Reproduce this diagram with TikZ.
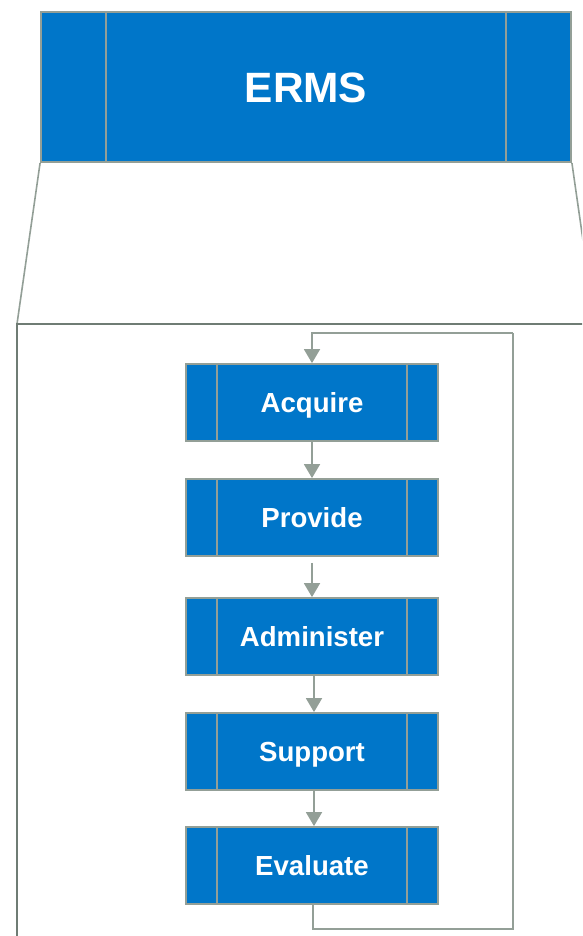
\documentclass[tikz,border=0pt]{standalone}
\usepackage{fontspec}
\setmainfont{Liberation Sans}
\usetikzlibrary{arrows.meta}
\definecolor{boxblue}{HTML}{0076C9}
\definecolor{edgegrey}{HTML}{939F97}
\definecolor{framegrey}{HTML}{6F7C74}
\tikzset{
  topbox/.style={draw=edgegrey, line width=1.8pt, fill=boxblue, minimum width=530pt, minimum height=150pt, inner sep=0pt, text=white, text height=30.4pt, text depth=0pt, font=\bfseries\fontsize{42.4}{48}\selectfont},
  procbox/.style={draw=edgegrey, line width=1.8pt, fill=boxblue, minimum width=252pt, minimum height=77pt, inner sep=0pt, text=white, text height=19.8pt, text depth=0pt, font=\bfseries\fontsize{27.6}{32}\selectfont},
  divider/.style={draw=edgegrey, line width=1.8pt},
  flow/.style={draw=edgegrey, line width=1.8pt, -{Triangle[width=16pt,length=14pt]}},
  loopline/.style={draw=edgegrey, line width=1.8pt},
  zoomline/.style={draw=edgegrey, line width=1.6pt},
  frame/.style={draw=framegrey, line width=2.4pt}
}
\begin{document}
\begin{tikzpicture}[x=1pt,y=-1pt]
\useasboundingbox (0,0) rectangle (582,936);
\clip (0,0) rectangle (582,936);
% top box
\node[topbox] (erms) at (306,87) {ERMS};
\draw[divider] ([xshift=66pt]erms.north west) -- ([xshift=66pt]erms.south west);
\draw[divider] ([xshift=-66pt]erms.north east) -- ([xshift=-66pt]erms.south east);
% zoom lines and frame
\coordinate (fl) at (17,324);
\coordinate (fr) at (595,324);
\coordinate (fb) at (17,940);
\draw[zoomline] (erms.south west) -- (fl);
\draw[zoomline] (erms.south east) -- (fr);
\draw[frame] (fb) -- (fl) -- (600,324);
% process boxes
\foreach \nm/\txt/\yy in {acquire/Acquire/402.5, provide/Provide/517.5, administer/Administer/636.5, support/Support/751.5, evaluate/Evaluate/865.5}{
  \node[procbox] (\nm) at (312,\yy) {\txt};
  \draw[divider] ([xshift=32pt]\nm.north west) -- ([xshift=32pt]\nm.south west);
  \draw[divider] ([xshift=-32pt]\nm.north east) -- ([xshift=-32pt]\nm.south east);
}
% arrows
\draw[flow] (acquire) -- (provide);
\draw[flow, shorten <=6pt] (provide) -- (administer);
\draw[flow] ([xshift=2pt]administer.south) -- ([xshift=2pt]support.north);
\draw[flow] ([xshift=2pt]support.south) -- ([xshift=2pt]evaluate.north);
% feedback loop
\coordinate (loopbr) at (513,929);
\coordinate (looptr) at (513,333);
\draw[loopline] ([xshift=1pt]evaluate.south) |- (loopbr) -- (looptr);
\draw[flow] (looptr) -| (acquire.north);
\end{tikzpicture}
\end{document}
